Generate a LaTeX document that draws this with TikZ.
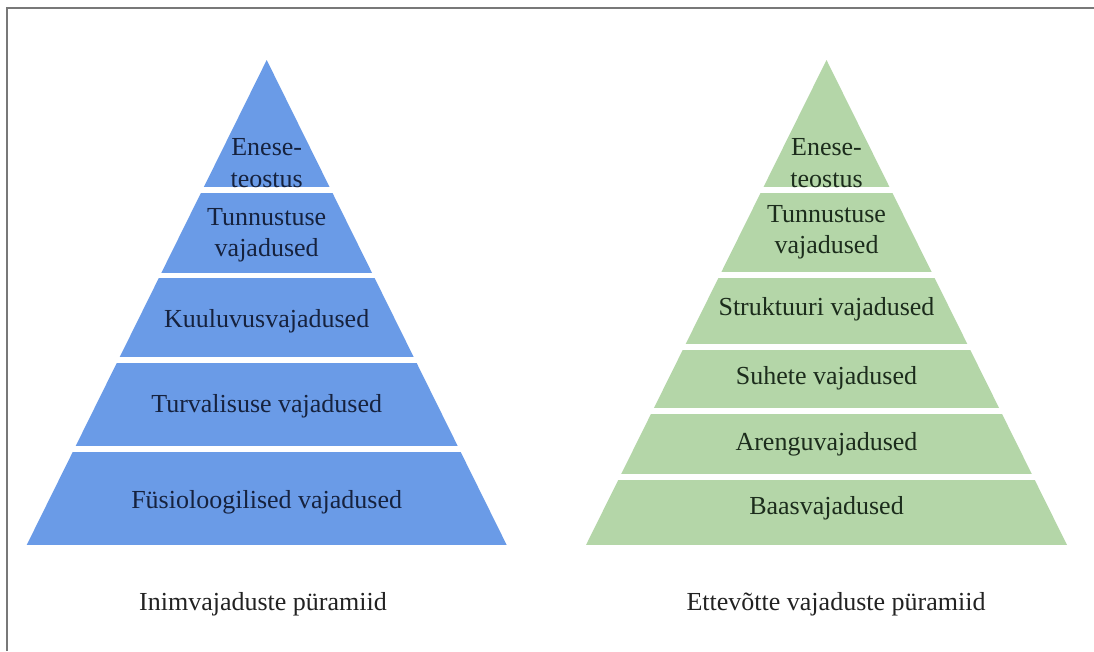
\documentclass[tikz,border=0pt]{standalone}
\usepackage{fontspec}
\setmainfont{Liberation Serif}
\begin{document}
\begin{tikzpicture}[x=1pt,y=-1pt,
  tiertext/.style={font=\fontsize{26}{31.5}\selectfont, align=center, inner sep=0pt},
  bluetext/.style={tiertext, text=navyink},
  greentext/.style={tiertext, text=greenink},
  caption/.style={font=\fontsize{26}{30}\selectfont, text=captionink, inner sep=0pt}]
\definecolor{tierblue}{RGB}{106,155,231}
\definecolor{tiergreen}{RGB}{180,214,168}
\definecolor{navyink}{RGB}{22,34,62}
\definecolor{greenink}{RGB}{28,44,28}
\definecolor{captionink}{RGB}{34,34,34}
\definecolor{framegray}{RGB}{120,120,120}

\useasboundingbox (0,0) rectangle (1094,651);
\fill[white] (0,0) rectangle (1094,651);

% frame along the top and left edges
\draw[framegray, line width=2pt] (7,651) -- (7,8) -- (1094,8);

% left pyramid: apex (266.7,60), base y=545, half-width 240
\begin{scope}
  \clip (266.7,60) -- (506.7,545) -- (26.7,545) -- cycle;
  \foreach \a/\b in {60/187, 193/272.5, 278/357, 363/446, 452/545}
    \fill[tierblue] (0,\a) rectangle (560,\b);
\end{scope}

% right pyramid: apex (826.5,60), base y=545, half-width 240.5
\begin{scope}
  \clip (826.5,60) -- (1067,545) -- (586,545) -- cycle;
  \foreach \a/\b in {60/187, 193/272, 278/343.5, 350/407.5, 414/473.5, 480/545}
    \fill[tiergreen] (560,\a) rectangle (1094,\b);
\end{scope}

% tier labels, left
\node[bluetext] (l1) at (266.7,163) {Enese-\\teostus};
\node[bluetext] (l2) at (266.7,235) {Tunnustuse\\vajadused};
\node[bluetext] (l3) at (266.7,321) {Kuuluvusvajadused};
\node[bluetext] (l4) at (266.7,406) {Turvalisuse vajadused};
\node[bluetext] (l5) at (266.7,502) {Füsioloogilised vajadused};

% tier labels, right
\node[greentext] (r1) at (826.5,163) {Enese-\\teostus};
\node[greentext] (r2) at (826.5,232) {Tunnustuse\\vajadused};
\node[greentext] (r3) at (826.5,309) {Struktuuri vajadused};
\node[greentext] (r4) at (826.5,378) {Suhete vajadused};
\node[greentext] (r5) at (826.5,444) {Arenguvajadused};
\node[greentext] (r6) at (826.5,508) {Baasvajadused};

% captions
\node[caption] (capl) at (263,604) {Inimvajaduste püramiid};
\node[caption] (capr) at (836,604) {Ettevõtte vajaduste püramiid};
\end{tikzpicture}
\end{document}
